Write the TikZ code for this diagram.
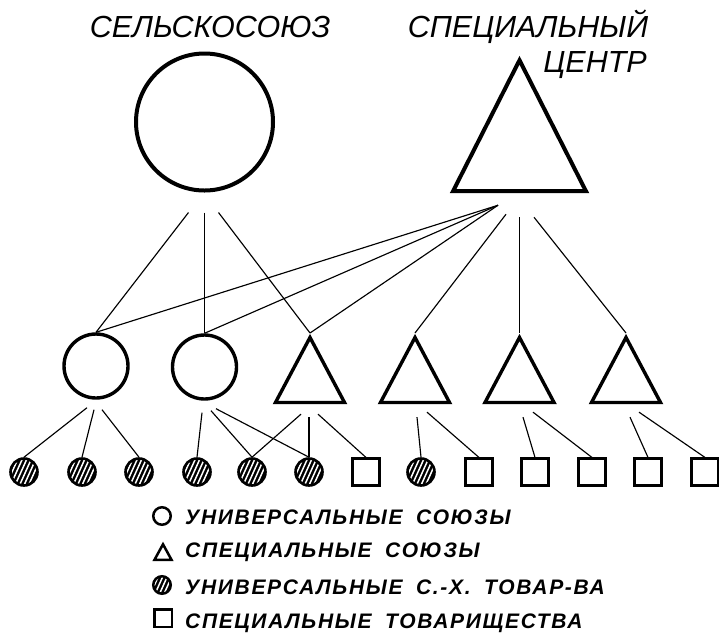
\documentclass[tikz,border=0pt]{standalone}
\usepackage{fontspec}
\setmainfont{Liberation Sans}
\newfontfamily\legfont[LetterSpace=8.0,WordSpace=1.8]{Liberation Sans}
\usepackage{tikz}
\usetikzlibrary{shapes.geometric,positioning,calc}

\begin{document}
\begin{tikzpicture}[x=1pt,y=-1pt,
    conn/.style={line width=1.15pt},
    title/.style={font=\fontsize{30.5}{32}\selectfont\itshape,inner sep=0pt},
    legtext/.style={font=\fontsize{21}{22}\selectfont\legfont\bfseries\itshape,inner sep=0pt,anchor=base west},
    unicirc/.style={circle,draw,inner sep=0pt},
    spectri/.style={isosceles triangle,isosceles triangle stretches,shape border rotate=90,draw,inner sep=0pt,line join=miter},
    tovhatch/.style={circle,draw,fill=black,line width=2.6pt,minimum size=27pt,inner sep=0pt,
      path picture={\foreach \k in {-30,-25.5,...,30}
        \draw[white,line width=1.5pt] ([xshift=\k pt-9pt,yshift=-20pt]path picture bounding box.center) -- ++(18,-40);}},
    tovbox/.style={rectangle,draw,line width=2.6pt,minimum size=26.5pt,inner sep=0pt}]
  \useasboundingbox (0,0) rectangle (719,638);

  % Top level
  \node[title,anchor=base] (tsk) at (210,37) {СЕЛЬСКОСОЮЗ};
  \node[title,anchor=base] (tsc) at (528,37) {СПЕЦИАЛЬНЫЙ};
  \node[title,anchor=base east] (tce) at (647,72) {ЦЕНТР};
  \node[unicirc,line width=4pt,minimum size=137pt] (sk) at (204.5,122) {};
  \node[spectri,line width=4pt,minimum width=133pt,minimum height=131pt,anchor=apex] (sc) at (519.5,55) {};

  % Unions
  \node[unicirc,line width=3.4pt,minimum size=64pt] (u1) at (96,366) {};
  \node[unicirc,line width=3.4pt,minimum size=64pt] (u2) at (204.5,367) {};
  \foreach \i/\x in {1/310,2/415,3/519.5,4/626}
    \node[spectri,line width=3.4pt,minimum width=69pt,minimum height=65pt,anchor=apex] (s\i) at (\x,333) {};

  % Societies
  \foreach \i/\x/\k in {1/24/tovhatch,2/82/tovhatch,3/139/tovhatch,4/197/tovhatch,5/252/tovhatch,
      6/309/tovhatch,7/366/tovbox,8/421/tovhatch,9/479/tovbox,10/535/tovbox,11/592/tovbox,
      12/648/tovbox,13/705/tovbox}
    \node[\k] (b\i) at (\x,472) {};

  % Connectors
  \coordinate (hub) at ([shift={(-21.5,12)}]sc.south);
  \draw[conn] (sk.south) ++(-16,20) -- (u1.north);
  \draw[conn] (sk.south) ++(0,20) -- (u2.north);
  \draw[conn] (sk.south) ++(14,20) -- (s1.apex);
  \foreach \c in {u1.north,u2.north,s1.apex}
    \draw[conn] (hub) -- (\c);
  \draw[conn] ([shift={(-13.5,21)}]sc.south) -- (s2.apex);
  \draw[conn] ([shift={(0,24)}]sc.south) -- (s3.apex);
  \draw[conn] ([shift={(14.5,24)}]sc.south) -- (s4.apex);
  \foreach \p/\dx/\dy/\c in {u1/-9/8/b1,u1/-2/10/b2,u1/6/10/b3,u2/-2.5/12/b4,u2/6.5/10/b5,u2/11.5/8/b6,
      s1/-9/10/b5,s1/-1/13/b6,s1/8/10/b7,s2/2/13/b8,s2/12/8/b9,s3/3.5/13/b10,s3/13.5/8/b11,
      s4/4/13/b12,s4/13/8/b13}
    \draw[conn] (\p.south) ++(\dx,\dy) -- (\c.north);

  % Legend
  \node[unicirc,line width=2.5pt,minimum size=17.5pt] (lc) at (162,516) {};
  \node[spectri,line width=2.5pt,minimum width=17pt,minimum height=15.5pt,anchor=apex] (lt) at (163,541) {};
  \node[tovhatch,line width=2.5pt,minimum size=17.5pt] (lh) at (162,585) {};
  \node[tovbox,line width=2.5pt,minimum size=17.5pt] (lq) at (163,618) {};
  \node[legtext] (l1) at (185,524) {УНИВЕРСАЛЬНЫЕ СОЮЗЫ};
  \node[legtext] (l2) at (185,557) {СПЕЦИАЛЬНЫЕ СОЮЗЫ};
  \node[legtext] (l3) at (185,594) {УНИВЕРСАЛЬНЫЕ С.-Х. ТОВАР-ВА};
  \node[legtext] (l4) at (185,628) {СПЕЦИАЛЬНЫЕ ТОВАРИЩЕСТВА};
\end{tikzpicture}
\end{document}
